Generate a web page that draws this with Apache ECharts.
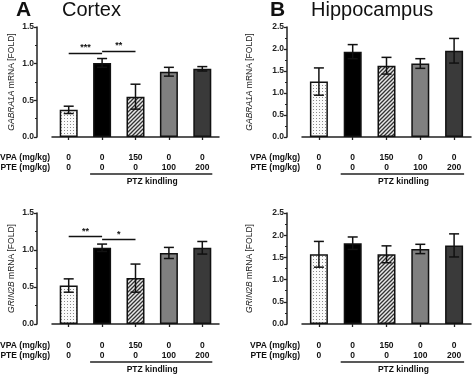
<!DOCTYPE html>
<html><head><meta charset="utf-8">
<script src="https://cdn.jsdelivr.net/npm/echarts@6/dist/echarts.min.js"></script>
<style>html,body{margin:0;padding:0;background:#fff}#c{width:474px;height:376px}</style>
</head><body><div id="c"></div>
<script>
// ---- data ----
const vpaDose = ['0', '0', '150', '0', '0'];
const pteDose = ['0', '0', '0', '100', '200'];
const rowLabels = ['VPA (mg/kg)', 'PTE (mg/kg)'];
const groupLabel = 'PTZ kindling';

const cortexGabra = [0.37, 1.01, 0.55, 0.89, 0.93];
const cortexGabraErr = [0.05, 0.06, 0.17, 0.06, 0.03];
const hippoGabra = [1.26, 1.94, 1.62, 1.67, 1.96];
const hippoGabraErr = [0.31, 0.16, 0.19, 0.11, 0.28];
const cortexGrin = [0.52, 1.03, 0.62, 0.96, 1.03];
const cortexGrinErr = [0.09, 0.05, 0.19, 0.075, 0.085];
const hippoGrin = [1.57, 1.82, 1.57, 1.69, 1.77];
const hippoGrinErr = [0.29, 0.14, 0.19, 0.105, 0.26];

const sigCortexGabra = [[0, 1, 1.14, '***'], [1, 2, 1.17, '**']];
const sigCortexGrin = [[0, 1, 1.18, '**'], [1, 2, 1.14, '*']];

// ---- styles ----
const FONT = "'Liberation Sans', Arial, sans-serif";
function dotPattern() {
  const c = document.createElement('canvas'); c.width = 3; c.height = 3;
  const x = c.getContext('2d');
  x.fillStyle = '#fafafa'; x.fillRect(0, 0, 3, 3);
  x.fillStyle = '#8a8a8a'; x.fillRect(1, 1, 1, 1);
  return { image: c, repeat: 'repeat' };
}
function hatchPattern() {
  const c = document.createElement('canvas'); c.width = 4; c.height = 4;
  const x = c.getContext('2d');
  x.fillStyle = '#e8e8e8'; x.fillRect(0, 0, 4, 4);
  x.strokeStyle = '#333'; x.lineWidth = 1.3;
  x.beginPath();
  x.moveTo(0, 4); x.lineTo(4, 0);
  x.moveTo(-1, 1); x.lineTo(1, -1);
  x.moveTo(3, 5); x.lineTo(5, 3);
  x.stroke();
  return { image: c, repeat: 'repeat' };
}
const fills = [dotPattern(), '#000000', hatchPattern(), '#808080', '#3a3a3a'];

const panels = [
  { grid: { left: 52, top: 27, width: 167, height: 110 }, max: 1.5, interval: 0.5, gene: 'GABRA1A', vals: cortexGabra, err: cortexGabraErr, sig: sigCortexGabra, off: 11, nameGap: 21 },
  { grid: { left: 302, top: 27, width: 169, height: 110 }, max: 2.5, interval: 0.5, gene: 'GABRA1A', vals: hippoGabra, err: hippoGabraErr, sig: [], off: 11, nameGap: 33 },
  { grid: { left: 52, top: 213, width: 167, height: 111 }, max: 1.5, interval: 0.5, gene: 'GRIN2B', vals: cortexGrin, err: cortexGrinErr, sig: sigCortexGrin, off: 12, nameGap: 21 },
  { grid: { left: 302, top: 213, width: 169, height: 111 }, max: 2.5, interval: 0.5, gene: 'GRIN2B', vals: hippoGrin, err: hippoGrinErr, sig: [], off: 12, nameGap: 33 }
];

const cats = vpaDose.map((v, i) => v + '\n' + pteDose[i]);

const option = {
  animation: false,
  backgroundColor: '#fff',
  textStyle: { fontFamily: FONT },
  title: [
    { text: 'A', left: 16, top: 0, padding: 0, textStyle: { fontSize: 21, fontWeight: 'bold', color: '#111', fontFamily: FONT } },
    { text: 'Cortex', left: 62, top: 0, padding: 0, textStyle: { fontSize: 20, fontWeight: 'normal', color: '#111', fontFamily: FONT } },
    { text: 'B', left: 270, top: 0, padding: 0, textStyle: { fontSize: 21, fontWeight: 'bold', color: '#111', fontFamily: FONT } },
    { text: 'Hippocampus', left: 311, top: 0, padding: 0, textStyle: { fontSize: 20, fontWeight: 'normal', color: '#111', fontFamily: FONT } }
  ],
  grid: panels.map(p => p.grid),
  xAxis: panels.map((p, i) => ({
    type: 'category', gridIndex: i, data: cats, offset: p.off,
    axisLine: { lineStyle: { color: '#222', width: 1.5 } },
    axisTick: { show: true, alignWithLabel: true, length: 3, lineStyle: { color: '#222', width: 1.3 } },
    axisLabel: { margin: 5, fontSize: 8.5, fontWeight: 'bold', color: '#111', lineHeight: 10, fontFamily: FONT, interval: 0 }
  })),
  yAxis: panels.map((p, i) => ({
    type: 'value', gridIndex: i, min: 0, max: p.max, interval: p.interval, offset: 15,
    name: '{i|' + p.gene + '} mRNA [FOLD]', nameLocation: 'middle', nameRotate: 90, nameGap: p.nameGap,
    nameTextStyle: { fontSize: 8.5, color: '#222', fontFamily: FONT, rich: { i: { fontStyle: 'italic', fontSize: 8.5, color: '#222', fontFamily: FONT } } },
    splitLine: { show: false },
    axisLine: { show: true, lineStyle: { color: '#222', width: 1.5 } },
    axisTick: { show: true, length: 3, lineStyle: { color: '#222', width: 1.3 } },
    minorTick: { show: true, splitNumber: 2, length: 2, lineStyle: { color: '#222', width: 1.1 } },
    axisLabel: { fontSize: 8.5, fontWeight: 'bold', color: '#222', margin: 3, fontFamily: FONT, formatter: v => v.toFixed(1) }
  })),
  series: []
};

panels.forEach((p, i) => {
  option.series.push({
    type: 'bar', xAxisIndex: i, yAxisIndex: i, barWidth: 18,
    data: p.vals.map((v, k) => ({ value: v, itemStyle: { color: fills[k], borderColor: '#111', borderWidth: 1.5 } })),
    markLine: p.sig.length ? {
      symbol: 'none', silent: true,
      lineStyle: { color: '#111', width: 1.4, type: 'solid' },
      label: { show: true, position: 'middle', formatter: '{b}', color: '#111', fontSize: 9, fontWeight: 'bold', distance: 1, fontFamily: FONT },
      emphasis: { disabled: true },
      data: p.sig.map(s => [{ coord: [s[0], s[2]], name: s[3] }, { coord: [s[1], s[2]] }])
    } : undefined
  });
  option.series.push({
    type: 'custom', xAxisIndex: i, yAxisIndex: i, z: 5,
    data: p.vals.map((v, k) => [k, v - p.err[k], v + p.err[k]]),
    encode: { x: 0, y: [1, 2] },
    renderItem: function (params, api) {
      const x = api.value(0);
      const hi = api.coord([x, api.value(2)]);
      const lo = api.coord([x, api.value(1)]);
      const w = 5;
      const st = { stroke: '#111', lineWidth: 1.5 };
      return {
        type: 'group', children: [
          { type: 'line', shape: { x1: hi[0], y1: hi[1], x2: lo[0], y2: lo[1] }, style: st },
          { type: 'line', shape: { x1: hi[0] - w, y1: hi[1], x2: hi[0] + w, y2: hi[1] }, style: st },
          { type: 'line', shape: { x1: lo[0] - w, y1: lo[1], x2: lo[0] + w, y2: lo[1] }, style: st }
        ]
      };
    }
  });
});

const chart = echarts.init(document.getElementById('c'), null, { renderer: 'canvas' });
chart.setOption(option);

// annotations placed from the axes' own pixel conversion
const graphics = [];
panels.forEach((p, i) => {
  const base = chart.convertToPixel({ gridIndex: i }, [0, 0]);
  const axisY = base[1] + p.off;
  const c1 = chart.convertToPixel({ gridIndex: i }, [1, 0])[0];
  const c4 = chart.convertToPixel({ gridIndex: i }, [4, 0])[0];
  const rightX = (i % 2 === 0) ? 50 : 300;
  rowLabels.forEach((t, r) => {
    graphics.push({ type: 'text', x: rightX, y: axisY + 10 + r * 10, style: { text: t, fill: '#111', font: 'bold 8.5px ' + FONT, textAlign: 'right', textVerticalAlign: 'middle' } });
  });
  graphics.push({ type: 'line', shape: { x1: c1 - 12, y1: axisY + 26, x2: c4 + 10, y2: axisY + 26 }, style: { stroke: '#222', lineWidth: 1.5 } });
  graphics.push({ type: 'text', x: (c1 + c4) / 2, y: axisY + 34, style: { text: groupLabel, fill: '#111', font: 'bold 8.5px ' + FONT, textAlign: 'center', textVerticalAlign: 'middle' } });
});
chart.setOption({ graphic: graphics });
</script>
</body></html>
